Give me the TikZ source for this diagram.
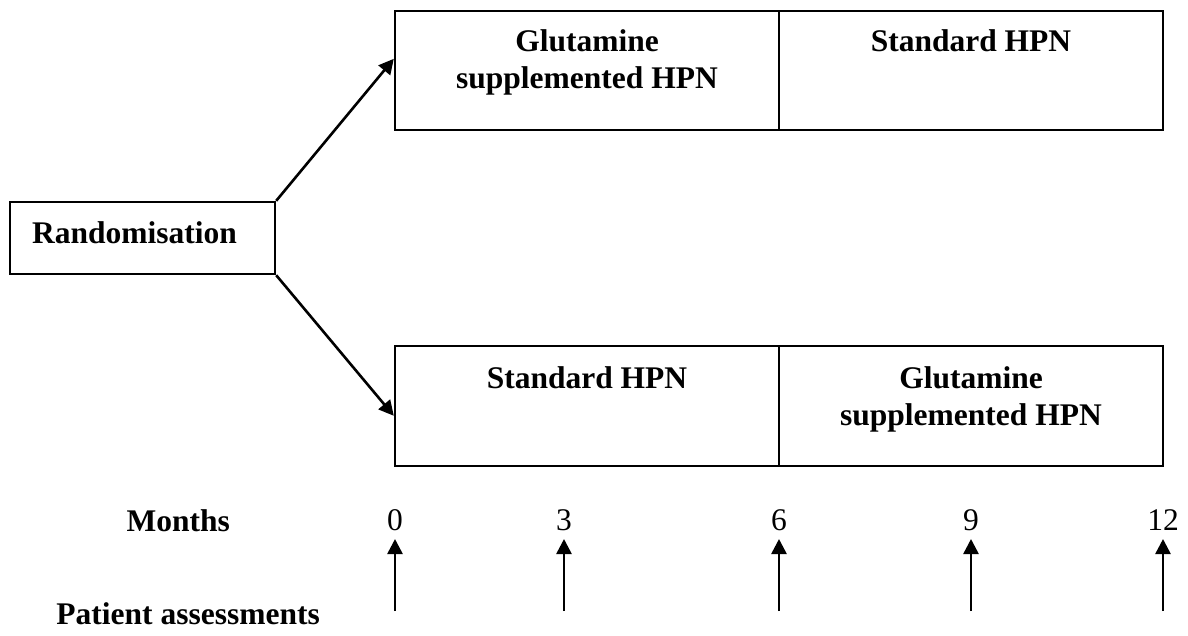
\documentclass[tikz,border=0pt]{standalone}
\usepackage{fontspec}
\setmainfont{Liberation Serif}
\usetikzlibrary{arrows.meta}
\begin{document}
\begin{tikzpicture}[x=1pt,y=-1pt,
  boxstyle/.style={draw, line width=2.4pt, inner sep=0pt},
  lbl/.style={font=\fontsize{31.5}{37}\selectfont\bfseries, inner sep=0pt, align=center},
  num/.style={font=\fontsize{31.5}{37}\selectfont, inner sep=0pt},
  arr/.style={line width=2.6pt, -{Triangle[length=15pt,width=15pt]}}]
\useasboundingbox (0,0) rectangle (1188,635);
% randomisation
\node[boxstyle, minimum width=265pt, minimum height=72pt] (rand) at (142.5,238) {};
\node[lbl, anchor=base west] (randt) at (32,243) {Randomisation};
% top arm
\node[boxstyle, minimum width=384pt, minimum height=119pt] (g1) at (587,70.5) {};
\node[boxstyle, minimum width=384pt, minimum height=119pt] (s1) at (971,70.5) {};
\node[lbl, anchor=north] (g1t) at (587,29.7) {Glutamine\\supplemented HPN};
\node[lbl, anchor=north] (s1t) at (971,29.7) {Standard HPN};
% bottom arm
\node[boxstyle, minimum width=384pt, minimum height=120pt] (s2) at (587,406) {};
\node[boxstyle, minimum width=384pt, minimum height=120pt] (g2) at (971,406) {};
\node[lbl, anchor=north] (s2t) at (587,366.7) {Standard HPN};
\node[lbl, anchor=north] (g2t) at (971,366.7) {Glutamine\\supplemented HPN};
% connectors
\draw[arr] (rand.north east) -- ([yshift=-49pt]g1.north west);
\draw[arr] (rand.south east) -- ([yshift=-71pt]s2.north west);
% months
\node[lbl, anchor=base east] (months) at (230,531) {Months};
\node[lbl, anchor=base east] (pa) at (320,624) {Patient assessments};
\foreach \x/\m [count=\i] in {395/0,564/3,779/6,971/9,1163/12}{
  \node[num, anchor=base] (n\i) at (\x,530) {\m};
  \coordinate (b\i) at (\x,611);
  \draw[arr] (b\i) -- ([yshift=-9pt]n\i.base);
}
\end{tikzpicture}
\end{document}
